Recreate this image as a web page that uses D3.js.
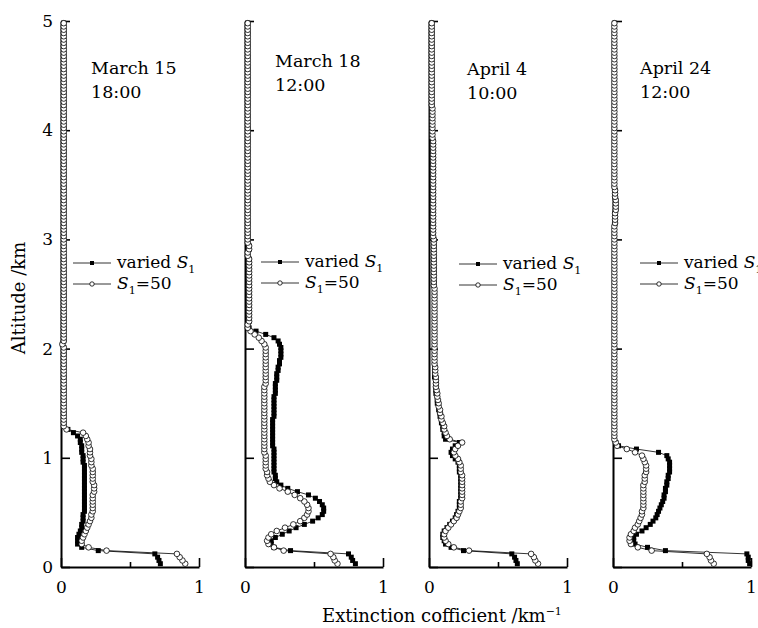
<!DOCTYPE html>
<html>
<head>
<meta charset="utf-8">
<script src="https://cdn.jsdelivr.net/npm/d3@7"></script>
<style>
  body { margin: 0; background: #fff; }
  text { font-family: "DejaVu Serif", serif; fill: #000; }
  .tick text { font-size: 17px; }
  .title { font-size: 17.5px; }
  .legend { font-size: 17px; }
  .axisText { font-size: 18px; }
</style>
</head>
<body>
<div id="chart"></div>
<script>
var svgWidth = 758;
var svgHeight = 628;

// lidar range bins, 30 m apart (0.03 .. 4.98 km)
var binKm = 0.03;
var altitude = d3.range(1, 167).map(i => +(i * binKm).toFixed(2));

var altTicks = [0, 1, 2, 3, 4, 5];
var extTicks = [0, 1];
var extMinorTicks = [0.5];

var panelDates = ["March 15", "March 18", "April 4", "April 24"];
var panelTimes = ["18:00", "12:00", "10:00", "12:00"];
var legendLabels = ["varied ", "=50"];

// extinction coefficient (km^-1), one value per range bin
var mar15Varied = [
  0.72, 0.71, 0.70, 0.68, 0.27, 0.15, 0.12, 0.12, 0.12, 0.13,
  0.14, 0.15, 0.15, 0.16, 0.16, 0.16, 0.17, 0.17, 0.17, 0.17,
  0.17, 0.17, 0.17, 0.17, 0.17, 0.17, 0.17, 0.17, 0.17, 0.17,
  0.17, 0.16, 0.16, 0.16, 0.15, 0.15, 0.15, 0.14, 0.14, 0.12,
  0.09, 0.05, 0.02, 0.02, 0.02, 0.02, 0.02, 0.02, 0.02, 0.02,
  0.02, 0.02, 0.02, 0.02, 0.02, 0.02, 0.02, 0.02, 0.02, 0.02,
  0.02, 0.02, 0.02, 0.02, 0.02, 0.02, 0.02, 0.01, 0.02, 0.02,
  0.02, 0.02, 0.02, 0.02, 0.02, 0.02, 0.02, 0.02, 0.02, 0.02,
  0.02, 0.02, 0.02, 0.02, 0.02, 0.02, 0.02, 0.02, 0.02, 0.02,
  0.02, 0.02, 0.02, 0.02, 0.02, 0.02, 0.02, 0.02, 0.02, 0.02,
  0.02, 0.02, 0.02, 0.02, 0.02, 0.02, 0.02, 0.02, 0.02, 0.02,
  0.02, 0.02, 0.02, 0.02, 0.02, 0.02, 0.02, 0.02, 0.02, 0.02,
  0.02, 0.02, 0.02, 0.02, 0.02, 0.02, 0.02, 0.02, 0.02, 0.02,
  0.02, 0.02, 0.02, 0.02, 0.02, 0.02, 0.02, 0.02, 0.02, 0.02,
  0.02, 0.02, 0.02, 0.02, 0.02, 0.02, 0.02, 0.02, 0.02, 0.02,
  0.02, 0.02, 0.02, 0.02, 0.02, 0.02, 0.02, 0.02, 0.02, 0.02,
  0.02, 0.02, 0.02, 0.02, 0.02, 0.02
];
var mar15Fixed = [
  0.90, 0.88, 0.86, 0.84, 0.33, 0.20, 0.15, 0.15, 0.16, 0.17,
  0.18, 0.19, 0.20, 0.21, 0.22, 0.22, 0.23, 0.23, 0.23, 0.23,
  0.23, 0.23, 0.24, 0.24, 0.24, 0.23, 0.23, 0.23, 0.23, 0.23,
  0.22, 0.22, 0.22, 0.21, 0.21, 0.21, 0.20, 0.20, 0.19, 0.18,
  0.16, 0.04, 0.02, 0.02, 0.02, 0.02, 0.02, 0.02, 0.02, 0.02,
  0.02, 0.02, 0.02, 0.02, 0.02, 0.02, 0.02, 0.02, 0.02, 0.02,
  0.02, 0.02, 0.02, 0.02, 0.02, 0.02, 0.02, 0.01, 0.02, 0.02,
  0.02, 0.02, 0.02, 0.02, 0.02, 0.02, 0.02, 0.02, 0.02, 0.02,
  0.02, 0.02, 0.02, 0.02, 0.02, 0.02, 0.02, 0.02, 0.02, 0.02,
  0.02, 0.02, 0.02, 0.02, 0.02, 0.02, 0.02, 0.02, 0.02, 0.02,
  0.02, 0.02, 0.02, 0.02, 0.02, 0.02, 0.02, 0.02, 0.02, 0.02,
  0.02, 0.02, 0.02, 0.02, 0.02, 0.02, 0.02, 0.02, 0.02, 0.02,
  0.02, 0.02, 0.02, 0.02, 0.02, 0.02, 0.02, 0.02, 0.02, 0.02,
  0.02, 0.02, 0.02, 0.02, 0.02, 0.02, 0.02, 0.02, 0.02, 0.02,
  0.02, 0.02, 0.02, 0.02, 0.02, 0.02, 0.02, 0.02, 0.02, 0.02,
  0.02, 0.02, 0.02, 0.02, 0.02, 0.02, 0.02, 0.02, 0.02, 0.02,
  0.02, 0.02, 0.02, 0.02, 0.02, 0.02
];
var mar18Varied = [
  0.80, 0.78, 0.77, 0.75, 0.33, 0.21, 0.19, 0.19, 0.22, 0.27,
  0.32, 0.37, 0.43, 0.49, 0.53, 0.56, 0.57, 0.57, 0.56, 0.54,
  0.51, 0.46, 0.38, 0.31, 0.26, 0.23, 0.22, 0.22, 0.21, 0.21,
  0.21, 0.21, 0.21, 0.21, 0.21, 0.21, 0.20, 0.20, 0.20, 0.20,
  0.20, 0.20, 0.20, 0.20, 0.20, 0.21, 0.21, 0.21, 0.21, 0.21,
  0.21, 0.21, 0.22, 0.22, 0.22, 0.22, 0.23, 0.23, 0.23, 0.24,
  0.24, 0.25, 0.25, 0.26, 0.26, 0.26, 0.26, 0.25, 0.24, 0.21,
  0.15, 0.08, 0.03, 0.02, 0.03, 0.03, 0.03, 0.03, 0.03, 0.03,
  0.03, 0.03, 0.03, 0.03, 0.03, 0.03, 0.03, 0.03, 0.03, 0.03,
  0.03, 0.03, 0.03, 0.03, 0.02, 0.02, 0.03, 0.03, 0.02, 0.02,
  0.02, 0.02, 0.02, 0.02, 0.02, 0.02, 0.02, 0.02, 0.02, 0.02,
  0.02, 0.02, 0.02, 0.02, 0.02, 0.02, 0.02, 0.02, 0.02, 0.02,
  0.02, 0.02, 0.02, 0.02, 0.02, 0.02, 0.02, 0.02, 0.02, 0.02,
  0.02, 0.02, 0.02, 0.02, 0.02, 0.02, 0.02, 0.02, 0.02, 0.02,
  0.02, 0.02, 0.02, 0.02, 0.02, 0.02, 0.02, 0.02, 0.02, 0.02,
  0.02, 0.02, 0.02, 0.02, 0.02, 0.02, 0.02, 0.02, 0.02, 0.02,
  0.02, 0.02, 0.02, 0.02, 0.02, 0.02
];
var mar18Fixed = [
  0.67, 0.65, 0.64, 0.62, 0.28, 0.21, 0.17, 0.16, 0.17, 0.19,
  0.23, 0.29, 0.35, 0.40, 0.43, 0.45, 0.46, 0.46, 0.45, 0.43,
  0.40, 0.36, 0.31, 0.25, 0.21, 0.18, 0.17, 0.16, 0.16, 0.15,
  0.15, 0.15, 0.15, 0.15, 0.14, 0.14, 0.14, 0.14, 0.14, 0.14,
  0.14, 0.14, 0.14, 0.14, 0.14, 0.14, 0.14, 0.14, 0.14, 0.14,
  0.14, 0.14, 0.14, 0.14, 0.14, 0.15, 0.15, 0.15, 0.15, 0.15,
  0.15, 0.15, 0.15, 0.15, 0.15, 0.15, 0.15, 0.14, 0.12, 0.10,
  0.07, 0.04, 0.02, 0.02, 0.03, 0.03, 0.03, 0.03, 0.03, 0.03,
  0.03, 0.03, 0.03, 0.03, 0.03, 0.03, 0.03, 0.03, 0.03, 0.03,
  0.03, 0.03, 0.03, 0.03, 0.02, 0.02, 0.03, 0.03, 0.02, 0.02,
  0.02, 0.02, 0.02, 0.02, 0.02, 0.02, 0.02, 0.02, 0.02, 0.02,
  0.02, 0.02, 0.02, 0.02, 0.02, 0.02, 0.02, 0.02, 0.02, 0.02,
  0.02, 0.02, 0.02, 0.02, 0.02, 0.02, 0.02, 0.02, 0.02, 0.02,
  0.02, 0.02, 0.02, 0.02, 0.02, 0.02, 0.02, 0.02, 0.02, 0.02,
  0.02, 0.02, 0.02, 0.02, 0.02, 0.02, 0.02, 0.02, 0.02, 0.02,
  0.02, 0.02, 0.02, 0.02, 0.02, 0.02, 0.02, 0.02, 0.02, 0.02,
  0.02, 0.02, 0.02, 0.02, 0.02, 0.02
];
var apr4Varied = [
  0.64, 0.63, 0.62, 0.60, 0.25, 0.16, 0.12, 0.11, 0.10, 0.10,
  0.11, 0.13, 0.15, 0.17, 0.19, 0.20, 0.21, 0.22, 0.22, 0.22,
  0.23, 0.23, 0.23, 0.23, 0.23, 0.23, 0.23, 0.23, 0.22, 0.22,
  0.22, 0.21, 0.19, 0.17, 0.16, 0.17, 0.19, 0.22, 0.12, 0.11,
  0.11, 0.10, 0.10, 0.09, 0.09, 0.08, 0.08, 0.07, 0.07, 0.06,
  0.06, 0.06, 0.05, 0.05, 0.05, 0.05, 0.05, 0.04, 0.04, 0.04,
  0.04, 0.04, 0.04, 0.04, 0.04, 0.04, 0.04, 0.04, 0.04, 0.04,
  0.04, 0.04, 0.04, 0.04, 0.04, 0.04, 0.04, 0.04, 0.04, 0.04,
  0.04, 0.04, 0.04, 0.04, 0.04, 0.035, 0.035, 0.035, 0.035, 0.035,
  0.035, 0.035, 0.035, 0.035, 0.035, 0.035, 0.035, 0.035, 0.035, 0.035,
  0.03, 0.03, 0.03, 0.03, 0.03, 0.03, 0.03, 0.03, 0.03, 0.03,
  0.03, 0.03, 0.03, 0.03, 0.03, 0.03, 0.03, 0.03, 0.03, 0.03,
  0.03, 0.03, 0.03, 0.03, 0.03, 0.03, 0.03, 0.03, 0.03, 0.03,
  0.025, 0.025, 0.025, 0.025, 0.025, 0.025, 0.025, 0.025, 0.025, 0.025,
  0.02, 0.02, 0.02, 0.02, 0.02, 0.02, 0.02, 0.02, 0.02, 0.02,
  0.02, 0.02, 0.02, 0.02, 0.02, 0.02, 0.02, 0.02, 0.02, 0.02,
  0.02, 0.02, 0.02, 0.02, 0.02, 0.02
];
var apr4Fixed = [
  0.79, 0.77, 0.76, 0.74, 0.29, 0.18, 0.14, 0.12, 0.11, 0.11,
  0.12, 0.14, 0.16, 0.18, 0.20, 0.21, 0.22, 0.23, 0.23, 0.23,
  0.24, 0.24, 0.24, 0.24, 0.24, 0.24, 0.24, 0.24, 0.23, 0.23,
  0.23, 0.22, 0.21, 0.19, 0.18, 0.19, 0.21, 0.24, 0.15, 0.13,
  0.12, 0.11, 0.11, 0.10, 0.09, 0.09, 0.08, 0.08, 0.07, 0.07,
  0.065, 0.06, 0.06, 0.055, 0.05, 0.05, 0.05, 0.05, 0.045, 0.045,
  0.045, 0.04, 0.04, 0.04, 0.04, 0.04, 0.04, 0.04, 0.04, 0.04,
  0.04, 0.04, 0.04, 0.04, 0.04, 0.04, 0.04, 0.04, 0.04, 0.04,
  0.04, 0.04, 0.04, 0.04, 0.04, 0.035, 0.035, 0.035, 0.035, 0.035,
  0.035, 0.035, 0.035, 0.035, 0.035, 0.035, 0.035, 0.035, 0.035, 0.035,
  0.03, 0.03, 0.03, 0.03, 0.03, 0.03, 0.03, 0.03, 0.03, 0.03,
  0.03, 0.03, 0.03, 0.03, 0.03, 0.03, 0.03, 0.03, 0.03, 0.03,
  0.03, 0.03, 0.03, 0.03, 0.03, 0.03, 0.03, 0.03, 0.03, 0.03,
  0.025, 0.025, 0.025, 0.025, 0.025, 0.025, 0.025, 0.025, 0.025, 0.025,
  0.02, 0.02, 0.02, 0.02, 0.02, 0.02, 0.02, 0.02, 0.02, 0.02,
  0.02, 0.02, 0.02, 0.02, 0.02, 0.02, 0.02, 0.02, 0.02, 0.02,
  0.02, 0.02, 0.02, 0.02, 0.02, 0.02
];
var apr24Varied = [
  0.99, 0.98, 0.98, 0.97, 0.38, 0.25, 0.16, 0.15, 0.15, 0.17,
  0.21, 0.24, 0.27, 0.29, 0.31, 0.32, 0.33, 0.34, 0.35, 0.36,
  0.37, 0.37, 0.38, 0.38, 0.39, 0.39, 0.40, 0.40, 0.41, 0.41,
  0.41, 0.41, 0.40, 0.39, 0.33, 0.17, 0.04, 0.02, 0.01, 0.01,
  0.01, 0.01, 0.01, 0.01, 0.01, 0.01, 0.01, 0.01, 0.01, 0.01,
  0.01, 0.01, 0.01, 0.01, 0.01, 0.01, 0.01, 0.01, 0.01, 0.01,
  0.01, 0.01, 0.01, 0.01, 0.01, 0.01, 0.01, 0.01, 0.01, 0.01,
  0.01, 0.01, 0.01, 0.01, 0.01, 0.01, 0.01, 0.01, 0.01, 0.01,
  0.01, 0.01, 0.01, 0.01, 0.01, 0.01, 0.01, 0.01, 0.01, 0.01,
  0.01, 0.01, 0.01, 0.01, 0.01, 0.01, 0.01, 0.01, 0.01, 0.01,
  0.01, 0.01, 0.01, 0.01, 0.015, 0.015, 0.015, 0.015, 0.02, 0.02,
  0.02, 0.02, 0.015, 0.015, 0.015, 0.01, 0.01, 0.01, 0.01, 0.01,
  0.01, 0.01, 0.01, 0.01, 0.01, 0.01, 0.01, 0.01, 0.01, 0.01,
  0.01, 0.01, 0.01, 0.01, 0.01, 0.01, 0.01, 0.01, 0.01, 0.01,
  0.01, 0.01, 0.01, 0.01, 0.01, 0.01, 0.01, 0.01, 0.01, 0.01,
  0.01, 0.01, 0.01, 0.01, 0.01, 0.01, 0.01, 0.01, 0.01, 0.01,
  0.01, 0.01, 0.01, 0.01, 0.01, 0.01
];
var apr24Fixed = [
  0.73, 0.71, 0.70, 0.68, 0.28, 0.18, 0.13, 0.12, 0.12, 0.13,
  0.15, 0.16, 0.18, 0.19, 0.20, 0.21, 0.21, 0.22, 0.22, 0.22,
  0.22, 0.22, 0.22, 0.22, 0.22, 0.23, 0.23, 0.23, 0.24, 0.24,
  0.24, 0.23, 0.22, 0.21, 0.16, 0.10, 0.03, 0.02, 0.01, 0.01,
  0.01, 0.01, 0.01, 0.01, 0.01, 0.01, 0.01, 0.01, 0.01, 0.01,
  0.01, 0.01, 0.01, 0.01, 0.01, 0.01, 0.01, 0.01, 0.01, 0.01,
  0.01, 0.01, 0.01, 0.01, 0.01, 0.01, 0.01, 0.01, 0.01, 0.01,
  0.01, 0.01, 0.01, 0.01, 0.01, 0.01, 0.01, 0.01, 0.01, 0.01,
  0.01, 0.01, 0.01, 0.01, 0.01, 0.01, 0.01, 0.01, 0.01, 0.01,
  0.01, 0.01, 0.01, 0.01, 0.01, 0.01, 0.01, 0.01, 0.01, 0.01,
  0.01, 0.01, 0.01, 0.01, 0.015, 0.015, 0.015, 0.015, 0.02, 0.02,
  0.02, 0.02, 0.015, 0.015, 0.015, 0.01, 0.01, 0.01, 0.01, 0.01,
  0.01, 0.01, 0.01, 0.01, 0.01, 0.01, 0.01, 0.01, 0.01, 0.01,
  0.01, 0.01, 0.01, 0.01, 0.01, 0.01, 0.01, 0.01, 0.01, 0.01,
  0.01, 0.01, 0.01, 0.01, 0.01, 0.01, 0.01, 0.01, 0.01, 0.01,
  0.01, 0.01, 0.01, 0.01, 0.01, 0.01, 0.01, 0.01, 0.01, 0.01,
  0.01, 0.01, 0.01, 0.01, 0.01, 0.01
];

var variedSeries = [mar15Varied, mar18Varied, apr4Varied, apr24Varied];
var fixedSeries = [mar15Fixed, mar18Fixed, apr4Fixed, apr24Fixed];

// layout (pixel positions, not data)
var panelLeft = [61, 245, 429, 613];
var panelWidth = 138;
var titlePos = [[91, 74], [275, 67], [467, 75], [640, 74]];
var legendPos = [[73, 263], [261, 262], [459, 264], [640, 263]];

var svg = d3.select("#chart")
  .append("svg")
  .attr("width", svgWidth)
  .attr("height", svgHeight);

var yScale = d3.scaleLinear().domain([0, 5]).range([567, 21]);

function toPoints(values) {
  return values.map((v, i) => ({ alt: altitude[i], ext: v }));
}

panelLeft.forEach(function(left, p) {
  var xScale = d3.scaleLinear().domain([0, 1]).range([left, left + panelWidth]);

  // y axis (ticks inside)
  var yAxis = svg.append("g")
    .attr("transform", `translate(${left},0)`)
    .call(d3.axisLeft(yScale)
      .tickValues(altTicks)
      .tickSize(-9)
      .tickSizeOuter(0)
      .tickPadding(8)
      .tickFormat(p === 0 ? d3.format("d") : ""));
  yAxis.select(".domain").attr("stroke-width", 2);
  yAxis.selectAll(".tick line").attr("stroke-width", 1.6);

  // x axis
  var xAxis = svg.append("g")
    .attr("transform", "translate(0,567)")
    .call(d3.axisBottom(xScale)
      .tickValues(extTicks)
      .tickSize(-9)
      .tickSizeOuter(0)
      .tickPadding(14)
      .tickFormat(d3.format("d")));
  xAxis.select(".domain").attr("stroke-width", 2);
  xAxis.selectAll(".tick line").attr("stroke-width", 1.6);

  var xMinor = svg.append("g")
    .attr("transform", "translate(0,567)")
    .call(d3.axisBottom(xScale).tickValues(extMinorTicks).tickSize(-5).tickFormat(""));
  xMinor.select(".domain").remove();
  xMinor.selectAll(".tick line").attr("stroke-width", 1.6);

  var line = d3.line().x(d => xScale(d.ext)).y(d => yScale(d.alt));

  // varied S1: line + filled squares
  var varied = toPoints(variedSeries[p]);
  svg.append("path").datum(varied)
    .attr("d", line).attr("fill", "none").attr("stroke", "#000").attr("stroke-width", 0.8);
  svg.append("g").selectAll("rect").data(varied).enter()
    .append("rect")
    .attr("x", d => xScale(d.ext) - 2.5)
    .attr("y", d => yScale(d.alt) - 2.5)
    .attr("width", 5).attr("height", 5)
    .attr("fill", "#000");

  // S1 = 50: line + open circles
  var fixed = toPoints(fixedSeries[p]);
  svg.append("path").datum(fixed)
    .attr("d", line).attr("fill", "none").attr("stroke", "#000").attr("stroke-width", 0.8);
  svg.append("g").selectAll("circle").data(fixed).enter()
    .append("circle")
    .attr("cx", d => xScale(d.ext))
    .attr("cy", d => yScale(d.alt))
    .attr("r", 2.8)
    .attr("fill", "#fff").attr("stroke", "#000").attr("stroke-width", 0.8);

  // date / time label
  var tp = titlePos[p];
  svg.append("text").attr("class", "title").attr("x", tp[0]).attr("y", tp[1]).text(panelDates[p]);
  svg.append("text").attr("class", "title").attr("x", tp[0]).attr("y", tp[1] + 24).text(panelTimes[p]);

  // legend
  var lp = legendPos[p];
  [0, 1].forEach(function(row) {
    var ly = lp[1] + row * 21;
    svg.append("line")
      .attr("x1", lp[0]).attr("x2", lp[0] + 38)
      .attr("y1", ly).attr("y2", ly)
      .attr("stroke", "#000").attr("stroke-width", 0.8);
    if (row === 0) {
      svg.append("rect").attr("x", lp[0] + 17).attr("y", ly - 2).attr("width", 4).attr("height", 4).attr("fill", "#000");
    } else {
      svg.append("circle").attr("cx", lp[0] + 19).attr("cy", ly).attr("r", 2.2)
        .attr("fill", "#fff").attr("stroke", "#000").attr("stroke-width", 0.8);
    }
    var t = svg.append("text").attr("class", "legend").attr("x", lp[0] + 44).attr("y", ly + 5);
    if (row === 0) {
      t.append("tspan").text(legendLabels[0]);
      t.append("tspan").attr("font-style", "italic").text("S");
      t.append("tspan").attr("dy", 5).style("font-size", "11px").text("1");
    } else {
      t.append("tspan").attr("font-style", "italic").text("S");
      t.append("tspan").attr("dy", 5).style("font-size", "11px").text("1");
      t.append("tspan").attr("dy", -5).text(legendLabels[1]);
    }
  });
});

// Y axis label
svg.append("text")
  .attr("class", "axisText")
  .attr("transform", "rotate(-90)")
  .attr("x", -298)
  .attr("y", 25)
  .attr("text-anchor", "middle")
  .text("Altitude /km");

// X axis label
var xl = svg.append("text")
  .attr("class", "axisText")
  .attr("x", 322)
  .attr("y", 622);
xl.append("tspan").text("Extinction cofficient /km");
xl.append("tspan").attr("dy", -7).style("font-size", "11px").text("\u22121");
</script>
</body>
</html>
